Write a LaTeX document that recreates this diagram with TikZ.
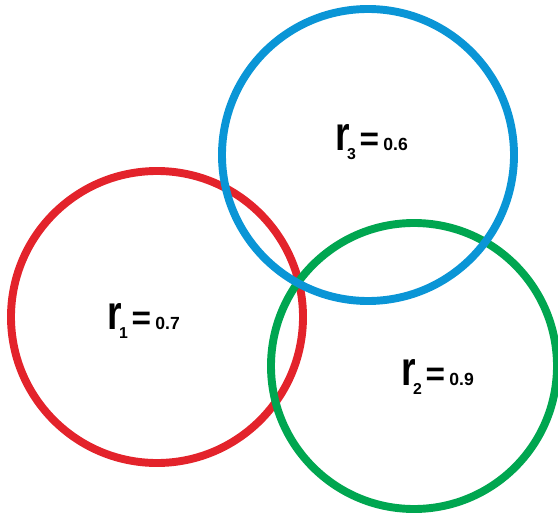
\documentclass[tikz,border=0pt]{standalone}
\usepackage{fontspec}
\setsansfont{Liberation Sans}
\usetikzlibrary{positioning}
\definecolor{ringRed}{HTML}{E3232B}
\definecolor{ringBlue}{HTML}{0A95D6}
\definecolor{ringGreen}{HTML}{00A650}
\newcommand{\rval}[2]{\scalebox{0.85}[1.1]{\fontsize{25}{25}\selectfont r}\kern-1.5pt\raisebox{-5pt}{\fontsize{9}{9}\selectfont #1}\kern2pt{\fontsize{19}{19}\selectfont =}\kern2.5pt{\fontsize{10}{10}\selectfont #2}}
\tikzset{ring/.style={line width=4.5pt},
  lab/.style={font=\sffamily\bfseries,inner sep=0pt,anchor=west}}

\begin{document}
\begin{tikzpicture}[x=0.02cm,y=-0.02cm]
  \useasboundingbox (0,0) rectangle (558,517);
  \coordinate (cR) at (157,317);
  \coordinate (cG) at (414,366);
  \coordinate (cB) at (368,155);
  \draw[ring,ringRed] (cR) circle[radius=146];
  \draw[ring,ringGreen] (cG) circle[radius=143];
  \draw[ring,ringBlue] (cB) circle[radius=146];
  \node[lab] (rOne) at (107,321) {\rval{1}{0.7}};
  \node[lab] (rTwo) at (401,377) {\rval{2}{0.9}};
  \node[lab] (rThree) at (335,142) {\rval{3}{0.6}};
\end{tikzpicture}
\end{document}
